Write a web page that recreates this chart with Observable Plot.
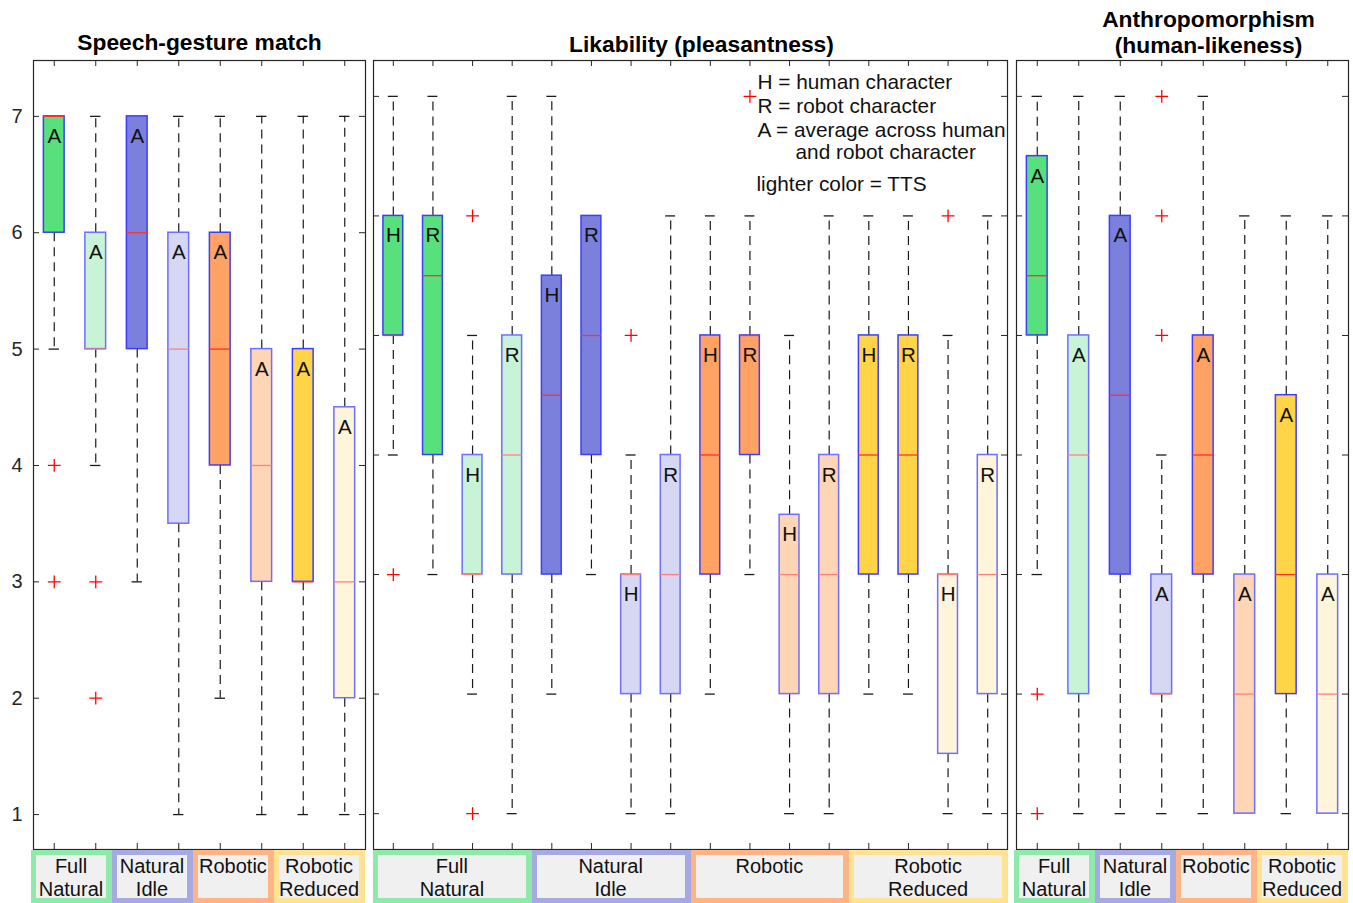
<!DOCTYPE html>
<html><head><meta charset="utf-8">
<script src="https://cdn.jsdelivr.net/npm/d3@7"></script>
<script src="https://cdn.jsdelivr.net/npm/@observablehq/plot@0.6"></script>
<style>
body{margin:0;background:#fff;font-family:"Liberation Sans",Arial,sans-serif;}
#chart{position:relative;width:1353px;height:903px;overflow:hidden;background:#fff;}
.panel{position:absolute;top:0;}
.strip{position:absolute;top:850px;height:53px;display:flex;}
.cell{box-sizing:border-box;flex:1;padding:5px 6px 5px 5px;height:53px;}
.cell div{background:#f0f0f0;height:100%;text-align:center;font-size:20px;line-height:23px;color:#111;}
</style></head><body><div id="chart"></div>
<script>
// ---------- shared ----------
const categoryLines = [["Full","Natural"],["Natural","Idle"],["Robotic"],["Robotic","Reduced"]];
const darkColors  = ["#57e07b","#7a80dc","#ffa263","#ffd547"];
const lightColors = ["#c8f3d7","#d5d7f3","#fed5b5","#fef5da"];
const stripColors = ["#8fe9aa","#a7aae2","#ffb485","#ffe393"];
const yTicks = [1,2,3,4,5,6,7];
const legendLines = ["H = human character","R = robot character","A = average across human"];
const legendCont = "and robot character";
const legendNote = "lighter color = TTS";

// ---------- Speech-gesture match ----------
const speechTitle = "Speech-gesture match";
const speechLabels   = ["A","A","A","A","A","A","A","A"];
const speechCategory = [0,0,1,1,2,2,3,3];
const speechTTS      = [0,1,0,1,0,1,0,1];
const speechQ1       = [6,5,5,3.5,4,3,3,2];
const speechMedian   = [7,5,6,5,5,4,3,3];
const speechQ3       = [7,6,7,6,6,5,5,4.5];
const speechLow      = [5,4,3,1,2,1,1,1];
const speechHigh     = [7,7,7,7,7,7,7,7];
const speechOutliers = [[4,3],[3,2],[],[],[],[],[],[]];

// ---------- Likability ----------
const likeTitle = "Likability (pleasantness)";
const likeLabels   = ["H","R","H","R","H","R","H","R","H","R","H","R","H","R","H","R"];
const likeCategory = [0,0,0,0,1,1,1,1,2,2,2,2,3,3,3,3];
const likeTTS      = [0,0,1,1,0,0,1,1,0,0,1,1,0,0,1,1];
const likeQ1       = [5,4,3,3, 3,4,2,2, 3,4,2,2, 3,3,1.5,2];
const likeMedian   = [5,5.5,3,4, 4.5,5,3,3, 4,5,3,3, 4,4,3,3];
const likeQ3       = [6,6,4,5, 5.5,6,3,4, 5,5,3.5,4, 5,5,3,4];
const likeLow      = [4,3,2,1, 2,3,1,1, 2,3,1,1, 2,2,1,1];
const likeHigh     = [7,7,5,7, 7,6,4,6, 6,6,5,6, 6,6,5,6];
const likeOutliers = [[3],[],[6,1],[], [],[],[5],[], [],[7],[],[], [],[],[6],[]];

// ---------- Anthropomorphism ----------
const anthTitle = "Anthropomorphism\n(human-likeness)";
const anthLabels   = ["A","A","A","A","A","A","A","A"];
const anthCategory = [0,0,1,1,2,2,3,3];
const anthTTS      = [0,1,0,1,0,1,0,1];
const anthQ1       = [5,2,3,2,3,1,2,1];
const anthMedian   = [5.5,4,4.5,2,4,2,3,2];
const anthQ3       = [6.5,5,6,3,5,3,4.5,3];
const anthLow      = [3,1,1,1,1,1,1,1];
const anthHigh     = [7,7,7,4,7,6,6,6];
const anthOutliers = [[2,1],[],[],[5,6,7],[],[],[],[]];

const FONT = "'Liberation Sans', Arial, Helvetica, sans-serif";
const TOP = 60, BOTTOM_M = 1, H = 850;

function panel(cfg) {
  const {labels, cat, tts, q1, med, q3, lo, hi, outliers, domain, frameLeft, frameWidth, mLeft, showY, title, titleDx, titleDy, extra} = cfg;
  const rows = labels.map((label, i) => ({pos: i + 1, label, cat: cat[i], tts: tts[i], q1: q1[i], med: med[i], q3: q3[i], lo: lo[i], hi: hi[i]}));
  const outl = rows.flatMap((r, i) => outliers[i].map(v => ({pos: r.pos, v})));
  const n = rows.length;
  const positions = rows.map(r => r.pos);
  const innerH = H - TOP - BOTTOM_M;
  const width = mLeft + frameWidth + 1;
  const hw = 0.25, cw = 0.125;
  const fillOf = r => (r.tts ? lightColors : darkColors)[r.cat];
  const wStyle = {stroke: "#1a1a1a", strokeWidth: 1.2, strokeDasharray: "9,6"};
  const marks = [
    Plot.ruleX(rows.filter(r => r.hi > r.q3), {x: "pos", y1: "q3", y2: "hi", ...wStyle}),
    Plot.ruleX(rows.filter(r => r.lo < r.q1), {x: "pos", y1: "q1", y2: "lo", ...wStyle}),
    Plot.ruleY(rows.filter(r => r.hi > r.q3), {y: "hi", x1: r => r.pos - cw, x2: r => r.pos + cw, stroke: "#1a1a1a", strokeWidth: 1.3}),
    Plot.ruleY(rows.filter(r => r.lo < r.q1), {y: "lo", x1: r => r.pos - cw, x2: r => r.pos + cw, stroke: "#1a1a1a", strokeWidth: 1.3}),
    Plot.rect(rows, {x1: r => r.pos - hw, x2: r => r.pos + hw, y1: "q1", y2: "q3", fill: fillOf, stroke: r => r.tts ? "#6e6eff" : "#3d3dff", strokeWidth: 1.5}),
    Plot.ruleY(rows, {y: "med", x1: r => r.pos - hw, x2: r => r.pos + hw, stroke: r => r.tts ? "#ff8080" : "#ff3030", strokeWidth: 1.3}),
    Plot.text(rows, {x: "pos", y: "q3", text: "label", dy: 20, fontSize: 20.5, fill: "#111"}),
    Plot.dot(outl, {x: "pos", y: "v", symbol: "plus", r: 4.2, stroke: "red", strokeWidth: 1.3}),
    // inward ticks (MATLAB box style)
    Plot.tickX(positions, {x: d => d, insetTop: innerH - 6, stroke: "#262626"}),
    Plot.tickX(positions, {x: d => d, insetBottom: innerH - 6, stroke: "#262626"}),
    Plot.tickY(yTicks, {y: d => d, insetRight: frameWidth - 6, stroke: "#262626"}),
    Plot.tickY(yTicks, {y: d => d, insetLeft: frameWidth - 6, stroke: "#262626"}),
    Plot.frame({stroke: "#262626", strokeWidth: 1.2}),
    Plot.text([title], {frameAnchor: "top", lineAnchor: "middle", dx: titleDx, dy: titleDy, fontSize: 22.8, fontWeight: "bold", lineHeight: 1.14, fill: "#000"}),
    ...(extra || [])
  ];
  if (showY) marks.push(Plot.axisY(yTicks, {anchor: "left", tickSize: 0, tickPadding: 11, tickFormat: d3.format("d"), fontSize: 20, fill: "#262626"}));
  const svg = Plot.plot({
    width, height: H,
    marginLeft: mLeft, marginRight: 1, marginTop: TOP, marginBottom: BOTTOM_M,
    x: {domain: [0.5, n + 0.5], axis: null},
    y: showY ? {domain} : {domain, axis: null},
    style: {fontFamily: FONT, background: "transparent", color: "#262626", overflow: "visible"},
    marks
  });
  const wrap = document.createElement("div");
  wrap.className = "panel";
  wrap.style.left = (frameLeft - mLeft) + "px";
  wrap.appendChild(svg);
  return wrap;
}

function strip(left, width) {
  const s = document.createElement("div");
  s.className = "strip";
  s.style.left = left + "px";
  s.style.width = width + "px";
  categoryLines.forEach((lines, i) => {
    const c = document.createElement("div");
    c.className = "cell";
    c.style.background = stripColors[i];
    const inner = document.createElement("div");
    inner.innerHTML = lines.join("<br>");
    c.appendChild(inner);
    s.appendChild(c);
  });
  return s;
}

const chart = document.getElementById("chart");

chart.appendChild(panel({
  labels: speechLabels, cat: speechCategory, tts: speechTTS, q1: speechQ1, med: speechMedian, q3: speechQ3,
  lo: speechLow, hi: speechHigh, outliers: speechOutliers, domain: [0.7, 7.48],
  frameLeft: 33, frameWidth: 332, mLeft: 33, showY: true, title: speechTitle, titleDx: 0, titleDy: -19
}));

const legendMarks = [
  Plot.text([legendLines.join("\n")], {frameAnchor: "top-left", textAnchor: "start", lineAnchor: "top", dx: 384, dy: 12, fontSize: 20.8, lineHeight: 1.14, fill: "#111"}),
  Plot.text([legendCont], {frameAnchor: "top-left", textAnchor: "start", lineAnchor: "top", dx: 422, dy: 84, fontSize: 20.8, fill: "#111"}),
  Plot.text([legendNote], {frameAnchor: "top-left", textAnchor: "start", lineAnchor: "top", dx: 383, dy: 116, fontSize: 20.8, fill: "#111"})
];

chart.appendChild(panel({
  labels: likeLabels, cat: likeCategory, tts: likeTTS, q1: likeQ1, med: likeMedian, q3: likeQ3,
  lo: likeLow, hi: likeHigh, outliers: likeOutliers, domain: [0.7, 7.3],
  frameLeft: 373, frameWidth: 634, mLeft: 1, showY: false, title: likeTitle, titleDx: 11, titleDy: -17,
  extra: legendMarks
}));

chart.appendChild(panel({
  labels: anthLabels, cat: anthCategory, tts: anthTTS, q1: anthQ1, med: anthMedian, q3: anthQ3,
  lo: anthLow, hi: anthHigh, outliers: anthOutliers, domain: [0.7, 7.3],
  frameLeft: 1016, frameWidth: 332, mLeft: 1, showY: false, title: anthTitle, titleDx: 26, titleDy: -29
}));

chart.appendChild(strip(31, 334));
chart.appendChild(strip(373, 635));
chart.appendChild(strip(1014, 334));
</script></body></html>
